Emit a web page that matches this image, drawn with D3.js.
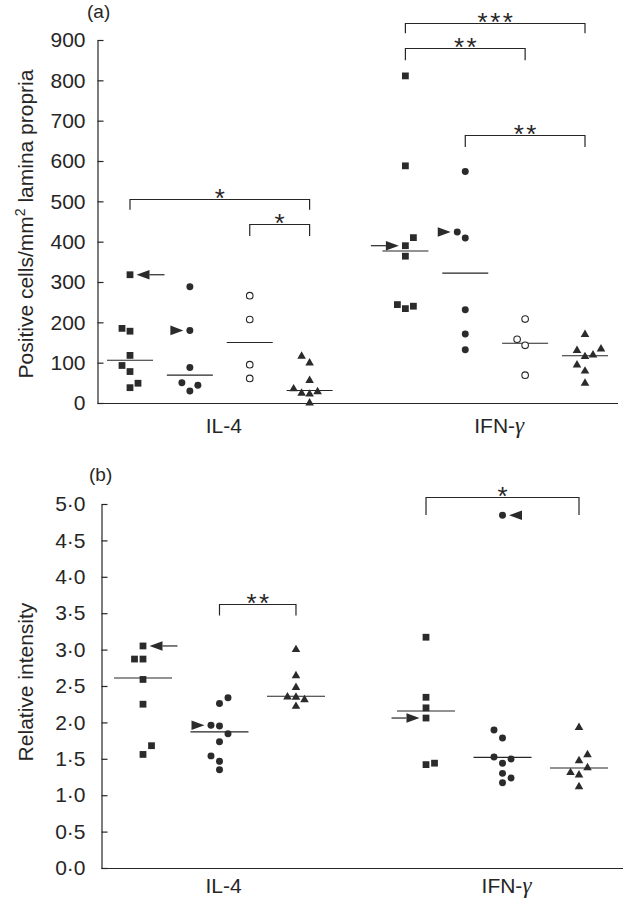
<!DOCTYPE html>
<html><head><meta charset="utf-8">
<script src="https://cdn.jsdelivr.net/npm/d3@7/dist/d3.min.js"></script>
<style>
body{margin:0;background:#fff}
svg{display:block}
text{font-family:"Liberation Sans",Arial,Helvetica,sans-serif;fill:#262626}
</style></head>
<body><svg id="c" width="630" height="901"></svg>
<script>
// ---------- DATA ----------
const groups = ["IL-4", "IFN-γ"];

// Panel (a): Positive cells/mm2 lamina propria
const ticksA = [0, 100, 200, 300, 400, 500, 600, 700, 800, 900];
const seriesA = ["square", "circle", "open", "triangle"];
const aIL4Square = [318, 185, 178, 118, 93, 78, 49, 38];
const aIL4SquareDodge = [0, -1, 0, 0, -1, 0, 1, 0];
const aIL4Circle = [288, 180, 88, 50, 44, 30];
const aIL4CircleDodge = [0, 0, 0, -1, 1, 0];
const aIL4Open = [266, 207, 95, 61];
const aIL4OpenDodge = [0, 0, 0, 0];
const aIL4Triangle = [116, 99, 56, 35, 24, 22, 28, 0];
const aIL4TriangleDodge = [-1, 0, 0, -2, -1, 0, 1, 0];
const aIFNSquare = [811, 588, 410, 390, 364, 244, 234, 240];
const aIFNSquareDodge = [0, 0, 1, 0, 0, -1, 0, 1];
const aIFNCircle = [574, 424, 409, 231, 171, 132];
const aIFNCircleDodge = [0, -1, 0, 0, 0, 0];
const aIFNOpen = [208, 158, 143, 69];
const aIFNOpenDodge = [0, -1, 0, 0];
const aIFNTriangle = [170, 130, 134, 115, 119, 94, 79, 49];
const aIFNTriangleDodge = [0, -1, 2, 0, 1, -1, 0, 0];
const aMedians = [[106, 69, 150, 31], [377, 322, 148, 117]];
const bracketsA = [
  {g: 0, from: 0, to: 3, top: 506, leg: 479, label: "*"},
  {g: 0, from: 2, to: 3, top: 444, leg: 414, label: "*"},
  {g: 1, from: 0, to: 3, top: 942, leg: 917, label: "***"},
  {g: 1, from: 0, to: 2, top: 880, leg: 850, label: "**"},
  {g: 1, from: 1, to: 3, top: 664, leg: 635, label: "**"}
];
const arrowsA = [
  {g: 0, s: 0, value: 318, dodge: 0, dir: "left", tail: true},
  {g: 0, s: 1, value: 180, dodge: 0, dir: "right", tail: false},
  {g: 1, s: 0, value: 390, dodge: 0, dir: "right", tail: true},
  {g: 1, s: 1, value: 424, dodge: -1, dir: "right", tail: false}
];

// Panel (b): Relative intensity
const ticksB = [0, 0.5, 1, 1.5, 2, 2.5, 3, 3.5, 4, 4.5, 5];
const tickLabelsB = ["0·0", "0·5", "1·0", "1·5", "2·0", "2·5", "3·0", "3·5", "4·0", "4·5", "5·0"];
const seriesB = ["square", "circle", "triangle"];
const bIL4Square = [3.05, 2.87, 2.87, 2.59, 2.25, 1.68, 1.56];
const bIL4SquareDodge = [0, -1, 0, 0, 0, 1, 0];
const bIL4Circle = [2.34, 2.26, 1.96, 1.95, 1.845, 1.735, 1.54, 1.465, 1.35];
const bIL4CircleDodge = [1, 0, -1, 0, 1, 0, -1, 0, 0];
const bIL4Triangle = [3.00, 2.64, 2.48, 2.35, 2.345, 2.31, 2.22];
const bIL4TriangleDodge = [0, 0, 0, -1, 0, 1, 0];
const bIFNSquare = [3.17, 2.345, 2.20, 2.06, 1.42, 1.44];
const bIFNSquareDodge = [0, 0, 0, 0, 0, 1];
const bIFNCircle = [4.845, 1.895, 1.786, 1.525, 1.497, 1.44, 1.30, 1.236, 1.17];
const bIFNCircleDodge = [0, -1, 0, -1, 1, 0, 0, 1, 0];
const bIFNTriangle = [1.93, 1.556, 1.474, 1.378, 1.31, 1.277, 1.117];
const bIFNTriangleDodge = [0, 1, 0, 1, -1, 0, 0];
const bMedians = [[2.61, 1.87, 2.36], [2.157, 1.52, 1.374]];
const bracketsB = [
  {g: 0, from: 1, to: 2, top: 3.62, leg: 3.47, label: "**"},
  {g: 1, from: 0, to: 2, top: 5.09, leg: 4.85, label: "*"}
];
const arrowsB = [
  {g: 0, s: 0, value: 3.05, dodge: 0, dir: "left", tail: true},
  {g: 0, s: 1, value: 1.96, dodge: -1, dir: "right", tail: false},
  {g: 1, s: 0, value: 2.06, dodge: 0, dir: "right", tail: true},
  {g: 1, s: 1, value: 4.845, dodge: 0, dir: "left", tail: false}
];

// ---------- DRAWING ----------
const svg = d3.select("#c");
const INK = "#262626";

function buildPoints(valsByGroup, dodgeByGroup, series) {
  const pts = [];
  valsByGroup.forEach((gv, g) => gv.forEach((vals, s) => vals.forEach((v, i) =>
    pts.push({g, s, shape: series[s], value: v, dodge: dodgeByGroup[g][s][i]}))));
  return pts;
}

function drawPanel(cfg) {
  const root = svg.append("g");
  const {x, y, slot} = cfg;
  const px = (g, s, dodge) => x(slot(g, s)) + dodge * cfg.dodgePx;

  // y axis
  const yAxis = d3.axisLeft(y).tickValues(cfg.ticks).tickSize(-6).tickSizeOuter(0)
    .tickPadding(cfg.tickPad).tickFormat((d, i) => cfg.tickLabels[i]);
  const ga = root.append("g").attr("transform", `translate(${cfg.axisX},0)`).call(yAxis);
  ga.selectAll("path,line").attr("stroke", INK).attr("stroke-width", 1.2);
  ga.selectAll("text").attr("font-size", 21).attr("fill", INK)
    .style("font-family", '"Liberation Sans",Arial,sans-serif');

  // x axis line
  root.append("line").attr("x1", cfg.axisX).attr("x2", cfg.axisRight)
    .attr("y1", y(0) + 0.5).attr("y2", y(0) + 0.5).attr("stroke", INK).attr("stroke-width", 1.2);

  // group labels
  groups.forEach((gname, g) => {
    const cx = (px(g, 0, 0) + px(g, cfg.series.length - 1, 0)) / 2 + 4;
    const t = root.append("text").attr("x", cx).attr("y", cfg.labelY)
      .attr("text-anchor", "middle").attr("font-size", 21);
    if (gname.endsWith("γ")) {
      t.text(gname.slice(0, -1));
      t.append("tspan").text("γ").attr("font-style", "italic")
        .style("font-family", '"Liberation Serif","Times New Roman",serif').attr("font-size", 23);
    } else t.text(gname);
  });

  // medians
  cfg.medians.forEach((gm, g) => gm.forEach((m, s) => {
    const cx = px(g, s, 0);
    root.append("line").attr("x1", cx - cfg.medHalf).attr("x2", cx + cfg.medHalf)
      .attr("y1", y(m)).attr("y2", y(m)).attr("stroke", INK).attr("stroke-width", 1.1);
  }));

  // points
  const sym = {
    square: d3.symbol(d3.symbolSquare, 46),
    circle: d3.symbol(d3.symbolCircle, 38),
    open: d3.symbol(d3.symbolCircle, 34),
    triangle: d3.symbol(d3.symbolTriangle, 32)
  };
  root.append("g").selectAll("path").data(cfg.points).join("path")
    .attr("d", d => sym[d.shape]())
    .attr("transform", d => `translate(${px(d.g, d.s, d.dodge)},${y(d.value)})`)
    .attr("fill", d => d.shape === "open" ? "#fff" : "#2b2b2b")
    .attr("stroke", d => d.shape === "open" ? INK : "none")
    .attr("stroke-width", 1.1);

  // arrows
  cfg.arrows.forEach(a => {
    const cx = px(a.g, a.s, a.dodge), cy = y(a.value);
    const sgn = a.dir === "left" ? 1 : -1;
    const tip = cx + sgn * 6.5, base = tip + sgn * 13;
    root.append("path").attr("d", `M${tip},${cy}L${base},${cy - 4.8}L${base},${cy + 4.8}Z`)
      .attr("fill", "#2b2b2b");
    if (a.tail) root.append("line").attr("x1", base).attr("x2", tip + sgn * 28)
      .attr("y1", cy).attr("y2", cy).attr("stroke", INK).attr("stroke-width", 1.2);
  });

  // significance brackets
  cfg.brackets.forEach(b => {
    const x1 = px(b.g, b.from, 0), x2 = px(b.g, b.to, 0);
    const yt = Math.round(y(b.top)) + 0.5, yl = y(b.leg);
    root.append("path").attr("d", `M${x1},${yl}V${yt}H${x2}V${yl}`)
      .attr("fill", "none").attr("stroke", INK).attr("stroke-width", 1.2);
    root.append("text").attr("x", (x1 + x2) / 2 + 1.2).attr("y", yt + 7)
      .attr("text-anchor", "middle").attr("font-size", 26).attr("letter-spacing", 2.4)
      .attr("fill", "#5a5a5a").text(b.label);
  });

  // panel letter
  root.append("text").attr("x", cfg.letterX).attr("y", cfg.letterY)
    .attr("font-size", 19).text(cfg.letter);

  // y title
  const tt = root.append("text").attr("transform", `translate(${cfg.titleX},${cfg.titleY}) rotate(-90)`)
    .attr("text-anchor", "middle").attr("font-size", 21);
  cfg.title(tt);
}

// Panel (a)
drawPanel({
  x: d3.scaleLinear().domain([0, 7.6]).range([130, 585]),
  y: d3.scaleLinear().domain([0, 900]).range([403, 40]),
  slot: (g, s) => g * 4.6 + s,
  dodgePx: 8,
  axisX: 97.5, axisRight: 618, tickPad: 12,
  ticks: ticksA, tickLabels: ticksA.map(String),
  series: seriesA,
  points: buildPoints(
    [[aIL4Square, aIL4Circle, aIL4Open, aIL4Triangle], [aIFNSquare, aIFNCircle, aIFNOpen, aIFNTriangle]],
    [[aIL4SquareDodge, aIL4CircleDodge, aIL4OpenDodge, aIL4TriangleDodge], [aIFNSquareDodge, aIFNCircleDodge, aIFNOpenDodge, aIFNTriangleDodge]],
    seriesA),
  medians: aMedians, medHalf: 23,
  arrows: arrowsA, brackets: bracketsA,
  labelY: 433, letter: "(a)", letterX: 87, letterY: 18,
  titleX: 33, titleY: 224,
  title: t => {
    t.append("tspan").text("Positive cells/mm");
    t.append("tspan").text("2").attr("font-size", 14).attr("dy", -8);
    t.append("tspan").text(" lamina propria").attr("dy", 8);
  }
});

// Panel (b)
drawPanel({
  x: d3.scaleLinear().domain([0, 5.7]).range([143, 579]),
  y: d3.scaleLinear().domain([0, 5]).range([868, 504]),
  slot: (g, s) => g * 3.7 + s,
  dodgePx: 8.5,
  axisX: 101.5, axisRight: 623, tickPad: 16,
  ticks: ticksB, tickLabels: tickLabelsB,
  series: seriesB,
  points: buildPoints(
    [[bIL4Square, bIL4Circle, bIL4Triangle], [bIFNSquare, bIFNCircle, bIFNTriangle]],
    [[bIL4SquareDodge, bIL4CircleDodge, bIL4TriangleDodge], [bIFNSquareDodge, bIFNCircleDodge, bIFNTriangleDodge]],
    seriesB),
  medians: bMedians, medHalf: 29,
  arrows: arrowsB, brackets: bracketsB,
  labelY: 893, letter: "(b)", letterX: 89, letterY: 481,
  titleX: 33, titleY: 682,
  title: t => t.text("Relative intensity")
});
</script></body></html>
